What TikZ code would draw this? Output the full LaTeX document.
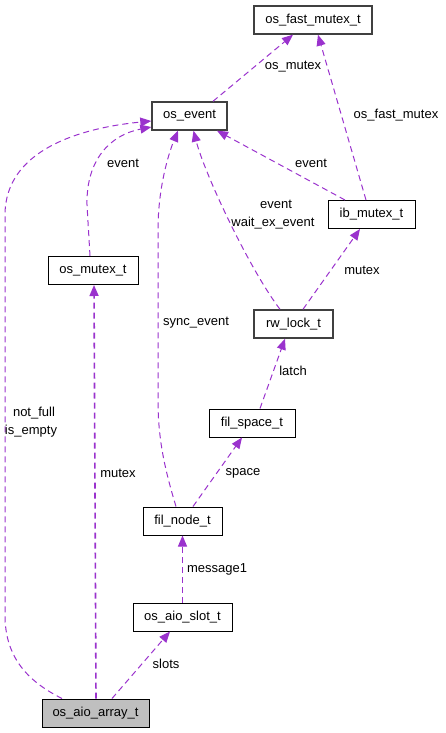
\documentclass[tikz,border=0pt]{standalone}
\usepackage{fontspec}
\setmainfont{Liberation Sans}
\usetikzlibrary{arrows.meta}
\definecolor{edgec}{HTML}{9A32CD}
\definecolor{grayfill}{HTML}{BFBFBF}
\begin{document}
\begin{tikzpicture}[x=1pt,y=-1pt,
  every node/.style={font=\fontsize{13pt}{15pt}\selectfont},
  cls/.style={draw=black,line width=1pt,minimum height=28pt,inner sep=0pt,fill=white},
  clsb/.style={cls,draw=black!75,line width=1.4pt},
  rel/.style={draw=edgec,line width=1pt,dash pattern=on 6pt off 4pt,-{Triangle[length=11pt,width=9pt]}},
  lbl/.style={text=black,inner sep=0pt}]
\useasboundingbox (0,0) rectangle (445,733);
% nodes
\node[clsb,minimum width=118pt] (fast) at (313,20) {os\_fast\_mutex\_t};
\node[clsb,minimum width=75pt] (osevent) at (189.5,116) {os\_event};
\node[cls,minimum width=87pt] (ib) at (371.5,214.5) {ib\_mutex\_t};
\node[cls,minimum width=90pt] (osmutex) at (93,270.5) {os\_mutex\_t};
\node[clsb,minimum width=79pt] (rw) at (293.5,324) {rw\_lock\_t};
\node[cls,minimum width=86pt] (space) at (252,423) {fil\_space\_t};
\node[cls,minimum width=79pt] (filnode) at (182.5,521) {fil\_node\_t};
\node[cls,minimum width=99pt] (slot) at (182.5,617) {os\_aio\_slot\_t};
\node[cls,fill=grayfill,minimum width=107pt] (array) at (95.5,713) {os\_aio\_array\_t};
% edges
\draw[rel] ([xshift=23.5pt]osevent.north) -- ([xshift=-20pt]fast.south);
\draw[rel] ([xshift=-5.5pt]ib.north) -- ([xshift=5pt]fast.south);
\draw[rel] ([xshift=-26.5pt]ib.north) -- ([xshift=27.5pt]osevent.south);
\draw[rel] ([xshift=-13.5pt]rw.north) .. controls (250,270) and (205,175) .. ([xshift=4pt]osevent.south);
\draw[rel] ([xshift=9.5pt]rw.north) -- ([xshift=-11.5pt]ib.south);
\draw[rel] ([xshift=-3pt]osmutex.north) -- (87,205) .. controls (86,160) and (110,135) .. ([yshift=-11pt]osevent.west);
\draw[rel] ([xshift=-6.5pt]filnode.north) .. controls (165,470) and (158,440) .. (158,400) -- (158,230) .. controls (158,185) and (170,150) .. ([xshift=-11.5pt]osevent.south);
\draw[rel] ([xshift=-33.5pt]array.north) .. controls (25,680) and (5,655) .. (5,615) -- (5,215) .. controls (5,150) and (80,128) .. ([yshift=-5pt]osevent.west);
\draw[rel,line width=1.6pt] ([xshift=0.5pt]array.north) -- ([xshift=1pt]osmutex.south);
\draw[rel] ([xshift=16.5pt]array.north) -- ([xshift=-12.5pt]slot.south);
\draw[rel] (slot.north) -- (filnode.south);
\draw[rel] ([xshift=10.5pt]filnode.north) -- ([xshift=-10pt]space.south);
\draw[rel] ([xshift=8pt]space.north) -- ([xshift=-8.5pt]rw.south);
% labels
\node[lbl] (l1) at (293,67) {os\_mutex};
\node[lbl] (l2) at (396,115) {os\_fast\_mutex};
\node[lbl] (l3) at (123,163) {event};
\node[lbl] (l4) at (311,163) {event};
\node[lbl] (l5) at (276,204) {event};
\node[lbl] (l6) at (273,223) {wait\_ex\_event};
\node[lbl] (l7) at (362,270) {mutex};
\node[lbl] (l8) at (196,323) {sync\_event};
\node[lbl] (l9) at (293,371) {latch};
\node[lbl] (l10) at (34,413) {not\_full};
\node[lbl] (l11) at (31,431) {is\_empty};
\node[lbl] (l12) at (118,473) {mutex};
\node[lbl] (l13) at (243,473) {space};
\node[lbl] (l14) at (217,569) {message1};
\node[lbl] (l15) at (166,664) {slots};
\end{tikzpicture}
\end{document}
